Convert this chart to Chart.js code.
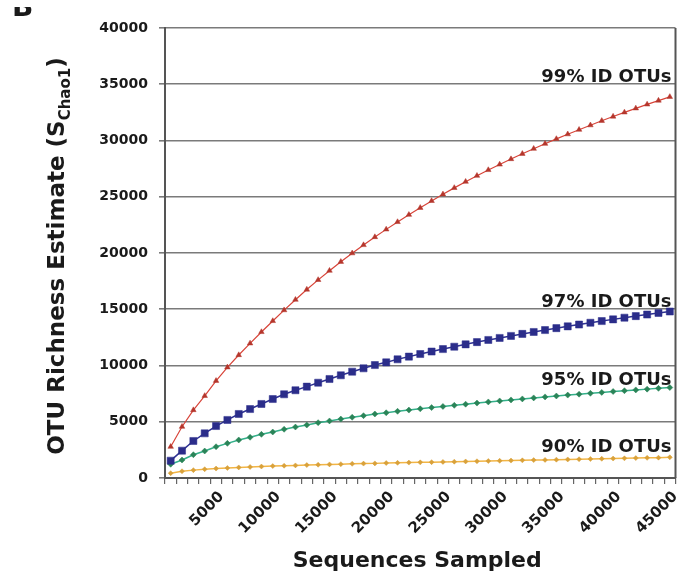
<!DOCTYPE html>
<html lang="en">
<head>
<meta charset="UTF-8">
<title>OTU richness rarefaction</title>
<script src="https://cdn.jsdelivr.net/npm/chart.js@4/dist/chart.umd.min.js"></script>
<style>
  html, body { margin: 0; padding: 0; background: #ffffff; }
  #wrap { width: 681px; height: 573px; }
</style>
</head>
<body>
<div id="wrap"><canvas id="rarefaction" width="681" height="573"></canvas></div>
<script>
// sequences sampled (x) for every plotted point
const sequencesSampled = [500, 1500, 2500, 3500, 4500, 5500, 6500, 7500, 8500, 9500,
  10500, 11500, 12500, 13500, 14500, 15500, 16500, 17500, 18500, 19500,
  20500, 21500, 22500, 23500, 24500, 25500, 26500, 27500, 28500, 29500,
  30500, 31500, 32500, 33500, 34500, 35500, 36500, 37500, 38500, 39500,
  40500, 41500, 42500, 43500, 44500];

// Chao1 richness estimates
const otus99 = [2780, 4560, 6040, 7300, 8640, 9840, 10930, 11970, 12980, 13960,
  14920, 15850, 16750, 17610, 18430, 19220, 19980, 20710, 21420, 22100,
  22760, 23400, 24020, 24630, 25220, 25790, 26340, 26870, 27380, 27870,
  28350, 28820, 29270, 29710, 30140, 30560, 30960, 31360, 31750, 32130,
  32500, 32860, 33210, 33550, 33880];
const otus97 = [1540, 2430, 3290, 3970, 4620, 5160, 5690, 6130, 6580, 7020,
  7440, 7800, 8120, 8470, 8800, 9130, 9450, 9750, 10040, 10280,
  10550, 10790, 11020, 11240, 11460, 11670, 11880, 12080, 12270, 12450,
  12630, 12810, 12980, 13150, 13320, 13480, 13640, 13800, 13950, 14100,
  14250, 14390, 14530, 14670, 14800];
const otus95 = [1220, 1600, 2070, 2400, 2780, 3080, 3380, 3620, 3880, 4090,
  4330, 4530, 4710, 4920, 5070, 5240, 5400, 5540, 5690, 5800,
  5930, 6040, 6150, 6260, 6360, 6460, 6560, 6660, 6760, 6850,
  6940, 7030, 7120, 7210, 7290, 7370, 7450, 7530, 7610, 7690,
  7760, 7830, 7900, 7970, 8040];
const otus90 = [430, 600, 700, 780, 840, 890, 940, 980, 1020, 1060,
  1090, 1120, 1150, 1180, 1210, 1230, 1260, 1280, 1300, 1330,
  1350, 1370, 1390, 1410, 1430, 1450, 1470, 1490, 1510, 1530,
  1550, 1570, 1590, 1610, 1630, 1650, 1670, 1690, 1710, 1730,
  1750, 1770, 1790, 1810, 1840];

const seriesLabels = ["99% ID OTUs", "97% ID OTUs", "95% ID OTUs", "90% ID OTUs"];
const xTickLabels = [5000, 10000, 15000, 20000, 25000, 30000, 35000, 40000, 45000];
const yTickStep = 5000;

const FONT = "'DejaVu Sans', 'Liberation Sans', Arial, sans-serif";

function toPoints(values) {
  return values.map((v, i) => ({ x: sequencesSampled[i], y: v }));
}

// titles, curve labels and the frame line on the right
const decorations = {
  id: "decorations",
  afterDraw(chart) {
    const ctx = chart.ctx;
    const area = chart.chartArea;
    const y = chart.scales.y;
    ctx.save();

    // right frame edge
    ctx.strokeStyle = "#555";
    ctx.lineWidth = 2;
    ctx.beginPath();
    ctx.moveTo(area.right, area.top);
    ctx.lineTo(area.right, area.bottom);
    ctx.stroke();

    ctx.fillStyle = "#1a1a1a";

    // curve labels
    ctx.font = "bold 18px " + FONT;
    ctx.textAlign = "right";
    ctx.textBaseline = "alphabetic";
    const lx = area.right - 4;
    ctx.fillText(seriesLabels[0], lx, y.getPixelForValue(35000) - 2);
    ctx.fillText(seriesLabels[1], lx, y.getPixelForValue(15000) - 2);
    ctx.fillText(seriesLabels[2], lx, y.getPixelForValue(10000) + 19);
    ctx.fillText(seriesLabels[3], lx, y.getPixelForValue(5000) + 30);

    // x axis title
    ctx.font = "bold 22px " + FONT;
    ctx.textAlign = "center";
    ctx.fillText("Sequences Sampled", (area.left + area.right) / 2 - 3, 567);

    // y axis title with subscript
    const main = "OTU Richness Estimate (S";
    const sub = "Chao1";
    const close = ")";
    ctx.font = "bold 23px " + FONT;
    const wMain = ctx.measureText(main).width;
    const wClose = ctx.measureText(close).width;
    ctx.font = "bold 15px " + FONT;
    const wSub = ctx.measureText(sub).width;
    const total = wMain + wSub + wClose;
    ctx.translate(64, 256);
    ctx.rotate(-Math.PI / 2);
    ctx.textAlign = "left";
    let px = -total / 2;
    ctx.font = "bold 23px " + FONT;
    ctx.fillText(main, px, 0);
    px += wMain;
    ctx.font = "bold 15px " + FONT;
    ctx.fillText(sub, px, 6);
    px += wSub;
    ctx.font = "bold 23px " + FONT;
    ctx.fillText(close, px, 0);
    ctx.restore();

    // panel letter, cut by the top edge as in the figure
    ctx.save();
    ctx.beginPath();
    ctx.rect(0, 7, 60, 14);
    ctx.clip();
    ctx.fillStyle = "#1a1a1a";
    ctx.font = "bold 28px " + FONT;
    ctx.textAlign = "left";
    ctx.fillText("B", 12, 16);
    ctx.restore();
  }
};

const ctx = document.getElementById("rarefaction").getContext("2d");
new Chart(ctx, {
  type: "line",
  data: {
    datasets: [
      {
        label: seriesLabels[0],
        data: toPoints(otus99),
        borderColor: "#d8453a",
        borderWidth: 1.2,
        pointStyle: "triangle",
        pointRadius: 3.2,
        pointBackgroundColor: "#b5362c",
        pointBorderColor: "#b5362c",
        pointBorderWidth: 0.5
      },
      {
        label: seriesLabels[1],
        data: toPoints(otus97),
        borderColor: "#2e3192",
        borderWidth: 1.5,
        pointStyle: "rect",
        pointRadius: 5,
        pointBackgroundColor: "#2b2d8a",
        pointBorderColor: "#2b2d8a",
        pointBorderWidth: 0.5
      },
      {
        label: seriesLabels[2],
        data: toPoints(otus95),
        borderColor: "#33b08a",
        borderWidth: 1.5,
        pointStyle: "rectRot",
        pointRadius: 3,
        pointBackgroundColor: "#2a8458",
        pointBorderColor: "#2a8458",
        pointBorderWidth: 0.5
      },
      {
        label: seriesLabels[3],
        data: toPoints(otus90),
        borderColor: "#f2b545",
        borderWidth: 1.5,
        pointStyle: "rectRot",
        pointRadius: 2.5,
        pointBackgroundColor: "#d9a13a",
        pointBorderColor: "#d9a13a",
        pointBorderWidth: 0.5
      }
    ]
  },
  options: {
    responsive: false,
    animation: false,
    layout: { padding: { top: 28, right: 4, left: 0, bottom: 0 } },
    plugins: {
      legend: { display: false },
      tooltip: { enabled: false }
    },
    scales: {
      x: {
        type: "linear",
        min: 0,
        max: 45000,
        afterFit(scale) {
          scale.height = 95;
          scale.paddingLeft = 0;
          scale.paddingRight = 0;
        },
        border: { color: "#555", width: 2 },
        grid: { drawOnChartArea: false, drawTicks: true, tickLength: 6, color: "#666", lineWidth: 1.2 },
        ticks: {
          stepSize: 1000,
          autoSkip: false,
          minRotation: 45,
          maxRotation: 45,
          padding: 4,
          color: "#1a1a1a",
          font: { family: FONT, size: 15, weight: "bold" },
          callback: (v) => (xTickLabels.includes(v) ? String(v) : "")
        }
      },
      y: {
        min: 0,
        max: 40000,
        afterFit(scale) { scale.width = 165; },
        border: { color: "#555", width: 2 },
        grid: { color: "#7a7a7a", lineWidth: 1.6, tickLength: 6 },
        ticks: {
          stepSize: yTickStep,
          padding: 11,
          color: "#1a1a1a",
          font: { family: FONT, size: 14, weight: "bold" },
          callback: (v) => String(v)
        }
      }
    }
  },
  plugins: [decorations]
});
</script>
</body>
</html>
